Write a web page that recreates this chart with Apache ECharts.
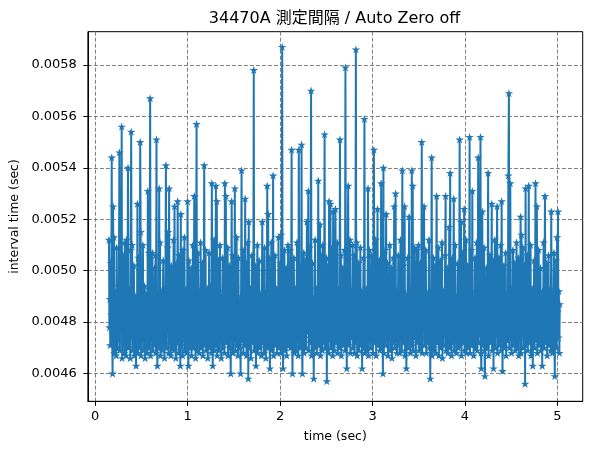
<!DOCTYPE html>
<html>
<head>
<meta charset="utf-8">
<script src="https://cdn.jsdelivr.net/npm/echarts@6/dist/echarts.min.js"></script>
<style>
html,body{margin:0;padding:0;background:#fff;}
#chart{width:591px;height:452px;}
</style>
</head>
<body>
<div id="chart"></div>
<script>
// Measured interval times, in units of 1e-5 sec, in measurement order
const seg1 = [
512,478,489,471,503,483,544,476,460,525,481,513,468,492,474,486,467,509,479,470,
488,473,494,546,469,484,477,491,556,466,482,506,472,487,468,511,475,490,467,512,
471,485,540,470,493,478,486,466,508,554,474,510,469,488,476,502,467,481,490,472,
463,489,479,526,468,505,475,484,470,550,515,467,492,480,473,510,469,486,477,494,
466,483,491,472,488,468,531,476,507,470,485,567,467,482,493,474,507,469,489,478,
471,501,480,506,468,551,475,463,490,484,470,532,477,511,467,486,473,492,469,481,
504,474,487,466,479,493,541,470,485,476,509,515,468,532,472,489,481,467,502,478,
470,488,475,512,469,525,483,491,466,477,503,472,527,480,468,506,474,486,463,522,
471,490,479,467,508,484,473,513,469,487,476,493,468,482,527,474,463,504,480,470,
489,475,501,467,485,478,510,470,483,529,472,491,466,488,557,469,481,507,474,486
];
const seg2 = [
468,492,477,511,470,484,473,503,467,489,479,541,471,486,508,469,482,475,493,466,
487,478,507,470,485,472,494,468,534,481,463,490,476,512,469,484,474,533,471,527,
467,488,480,504,469,483,510,473,490,466,485,477,505,470,482,492,468,534,475,529,
472,489,479,509,467,486,474,502,470,483,460,491,527,476,506,468,487,473,481,532,
469,493,478,513,471,485,467,505,475,488,470,482,460,490,539,473,486,508,468,480,
492,471,528,477,503,467,484,474,511,458,519,470,487,479,493,466,483,506,472,489,
475,578,469,486,502,477,463,490,481,510,468,485,473,504,470,488,476,491,467,483,
519,472,500,480,468,509,474,487,466,492,478,533,470,522,484,505,473,462,489,477,
511,469,486,475,537,467,490,482,506,471,484,474,493,468,488,479,513,470,483,476,
503,468,514,477,587,473,462,491,480,508,469,486,475,501,467,488,478,510,471,484
];
const seg3 = [
472,492,508,470,485,547,474,460,489,481,505,468,486,476,493,469,483,511,473,490,
467,547,479,502,470,487,475,549,471,460,492,482,507,468,485,474,504,470,488,519,
476,491,531,469,484,509,472,487,570,467,480,503,473,489,458,486,477,512,470,483,
493,468,485,476,535,471,490,479,518,467,506,474,488,469,510,481,472,491,553,470,
486,475,505,457,489,478,502,468,527,473,484,526,470,492,480,509,467,523,476,488,
469,503,524,472,487,478,511,468,485,474,493,470,551,481,506,467,489,476,501,471,
486,473,508,469,579,477,490,462,484,504,533,471,488,475,512,468,483,492,474,487,
510,470,485,506,468,481,476,586,472,511,467,490,479,503,469,486,474,509,471,483,
492,462,488,477,505,470,559,468,484,475,493,469,489,481,532,467,485,508,473,490,
470,483,506,474,488,468,502,547,472,486,479,512,467,484,476,524,471,491,480,504
];
const seg4 = [
469,487,475,534,470,493,482,460,540,468,489,477,508,471,522,473,486,503,467,483,
491,474,510,469,485,478,501,466,488,472,505,480,525,470,487,530,473,492,468,484,
477,506,471,489,468,483,512,475,490,469,539,481,502,472,486,525,467,491,478,462,
488,473,505,470,484,521,476,492,468,486,479,539,471,533,469,489,482,509,474,487,
467,493,508,472,485,477,510,469,490,475,503,470,483,550,468,487,479,501,525,471,
486,474,508,468,482,491,472,488,476,512,470,485,458,492,479,544,467,489,473,505,
469,484,477,502,468,487,529,472,490,481,509,467,485,474,504,470,488,478,511,466,
483,492,471,487,475,506,529,469,486,480,501,468,489,473,517,470,538,477,491,467,
485,505,472,488,528,469,482,510,474,490,468,486,479,503,470,484,476,551,471,489,
519,467,492,480,507,472,487,524,469,484,475,512,468,490,478,502,470,486,473,552
];
const seg5 = [
468,491,481,508,471,531,474,489,467,485,477,505,470,492,479,511,469,484,544,472,
487,475,503,552,468,462,490,523,471,486,478,509,469,459,488,476,501,470,483,492,
538,467,485,474,506,472,489,480,526,469,486,504,462,491,477,512,470,484,475,493,
525,468,488,479,505,471,485,474,510,469,527,482,461,490,476,502,470,487,472,507,
467,484,491,473,488,537,569,470,486,534,475,493,468,482,479,508,471,489,474,503,
469,486,477,511,470,490,481,505,467,484,473,492,521,468,514,487,475,509,470,485,
478,502,456,532,471,488,476,506,469,484,533,472,490,480,510,467,486,474,493,463,
488,477,504,470,485,534,473,491,525,468,487,479,508,471,484,475,501,469,489,482,
463,492,476,511,470,486,529,472,490,478,503,467,485,474,506,471,488,480,493,469,
523,475,491,468,486,479,507,472,459,489,477,504,470,513,484,523,474,492,468,487
];
const startTime = 0.15; // sec, time of first measurement
const xTicks = [0, 1, 2, 3, 4, 5];
const yTicks = [0.0046, 0.0048, 0.0050, 0.0052, 0.0054, 0.0056, 0.0058];
const titleText = '34470A 測定間隔 / Auto Zero off';
const xName = 'time (sec)';
const yName = 'interval time (sec)';

const intervals = [].concat(seg1, seg2, seg3, seg4, seg5);
const data = [];
let t = startTime;
for (let i = 0; i < intervals.length; i++) {
  const dt = intervals[i] * 1e-5;
  if (i > 0) t += dt;
  data.push([t, dt]);
}

const FONT = '"DejaVu Sans", "Noto Sans CJK JP", sans-serif';
const STAR = 'path://M100,0 L122.45,69.1 L195.1,69.1 L136.3,111.8 L158.8,180.9 L100,138.2 L41.2,180.9 L63.7,111.8 L4.9,69.1 L77.55,69.1 Z';
const gridStyle = {color: '#808080', type: [4, 2], width: 1};

const chart = echarts.init(document.getElementById('chart'), null, {renderer: 'canvas'});
chart.setOption({
  animation: false,
  backgroundColor: '#ffffff',
  textStyle: {fontFamily: FONT},
  grid: {left: 86.3, right: 8.3, top: 31.7, bottom: 50.7, show: true, borderColor: '#000', borderWidth: 1, backgroundColor: 'transparent'},
  graphic: [{
    type: 'text', x: 334.5, y: 19, z: 100,
    style: {text: titleText, fill: '#000', font: '16px ' + FONT, align: 'center', verticalAlign: 'middle', textAlign: 'center', textVerticalAlign: 'middle'}
  }],
  xAxis: {
    type: 'value', min: -0.078, max: 5.273,
    name: xName, nameLocation: 'middle', nameGap: 29,
    nameTextStyle: {color: '#000', fontSize: 12.5, fontFamily: FONT},
    axisLine: {show: true, onZero: false, lineStyle: {color: '#000', width: 1}},
    axisTick: {show: true, customValues: xTicks, length: 4.5, lineStyle: {color: '#000', width: 1}},
    axisLabel: {customValues: xTicks, color: '#000', fontSize: 13, margin: 9, fontFamily: FONT},
    splitLine: {show: true, lineStyle: gridStyle}
  },
  yAxis: {
    type: 'value', min: 0.004492, max: 0.005929,
    name: yName, nameLocation: 'middle', nameGap: 63, nameRotate: 90,
    nameTextStyle: {color: '#000', fontSize: 12.5, fontFamily: FONT},
    axisLine: {show: true, onZero: false, lineStyle: {color: '#000', width: 1}},
    axisTick: {show: true, customValues: yTicks, length: 4.5, lineStyle: {color: '#000', width: 1}},
    axisLabel: {customValues: yTicks, color: '#000', fontSize: 13, margin: 11, fontFamily: FONT,
      formatter: v => v.toFixed(4)},
    splitLine: {show: true, lineStyle: gridStyle}
  },
  series: [{
    type: 'line', data: data, z: 2,
    showSymbol: true, showAllSymbol: true,
    symbol: STAR, symbolSize: [8.5, 8],
    lineStyle: {color: '#1f77b4', width: 2},
    itemStyle: {color: '#1f77b4', borderWidth: 0},
    emphasis: {disabled: true}
  }]
});
</script>
</body>
</html>
